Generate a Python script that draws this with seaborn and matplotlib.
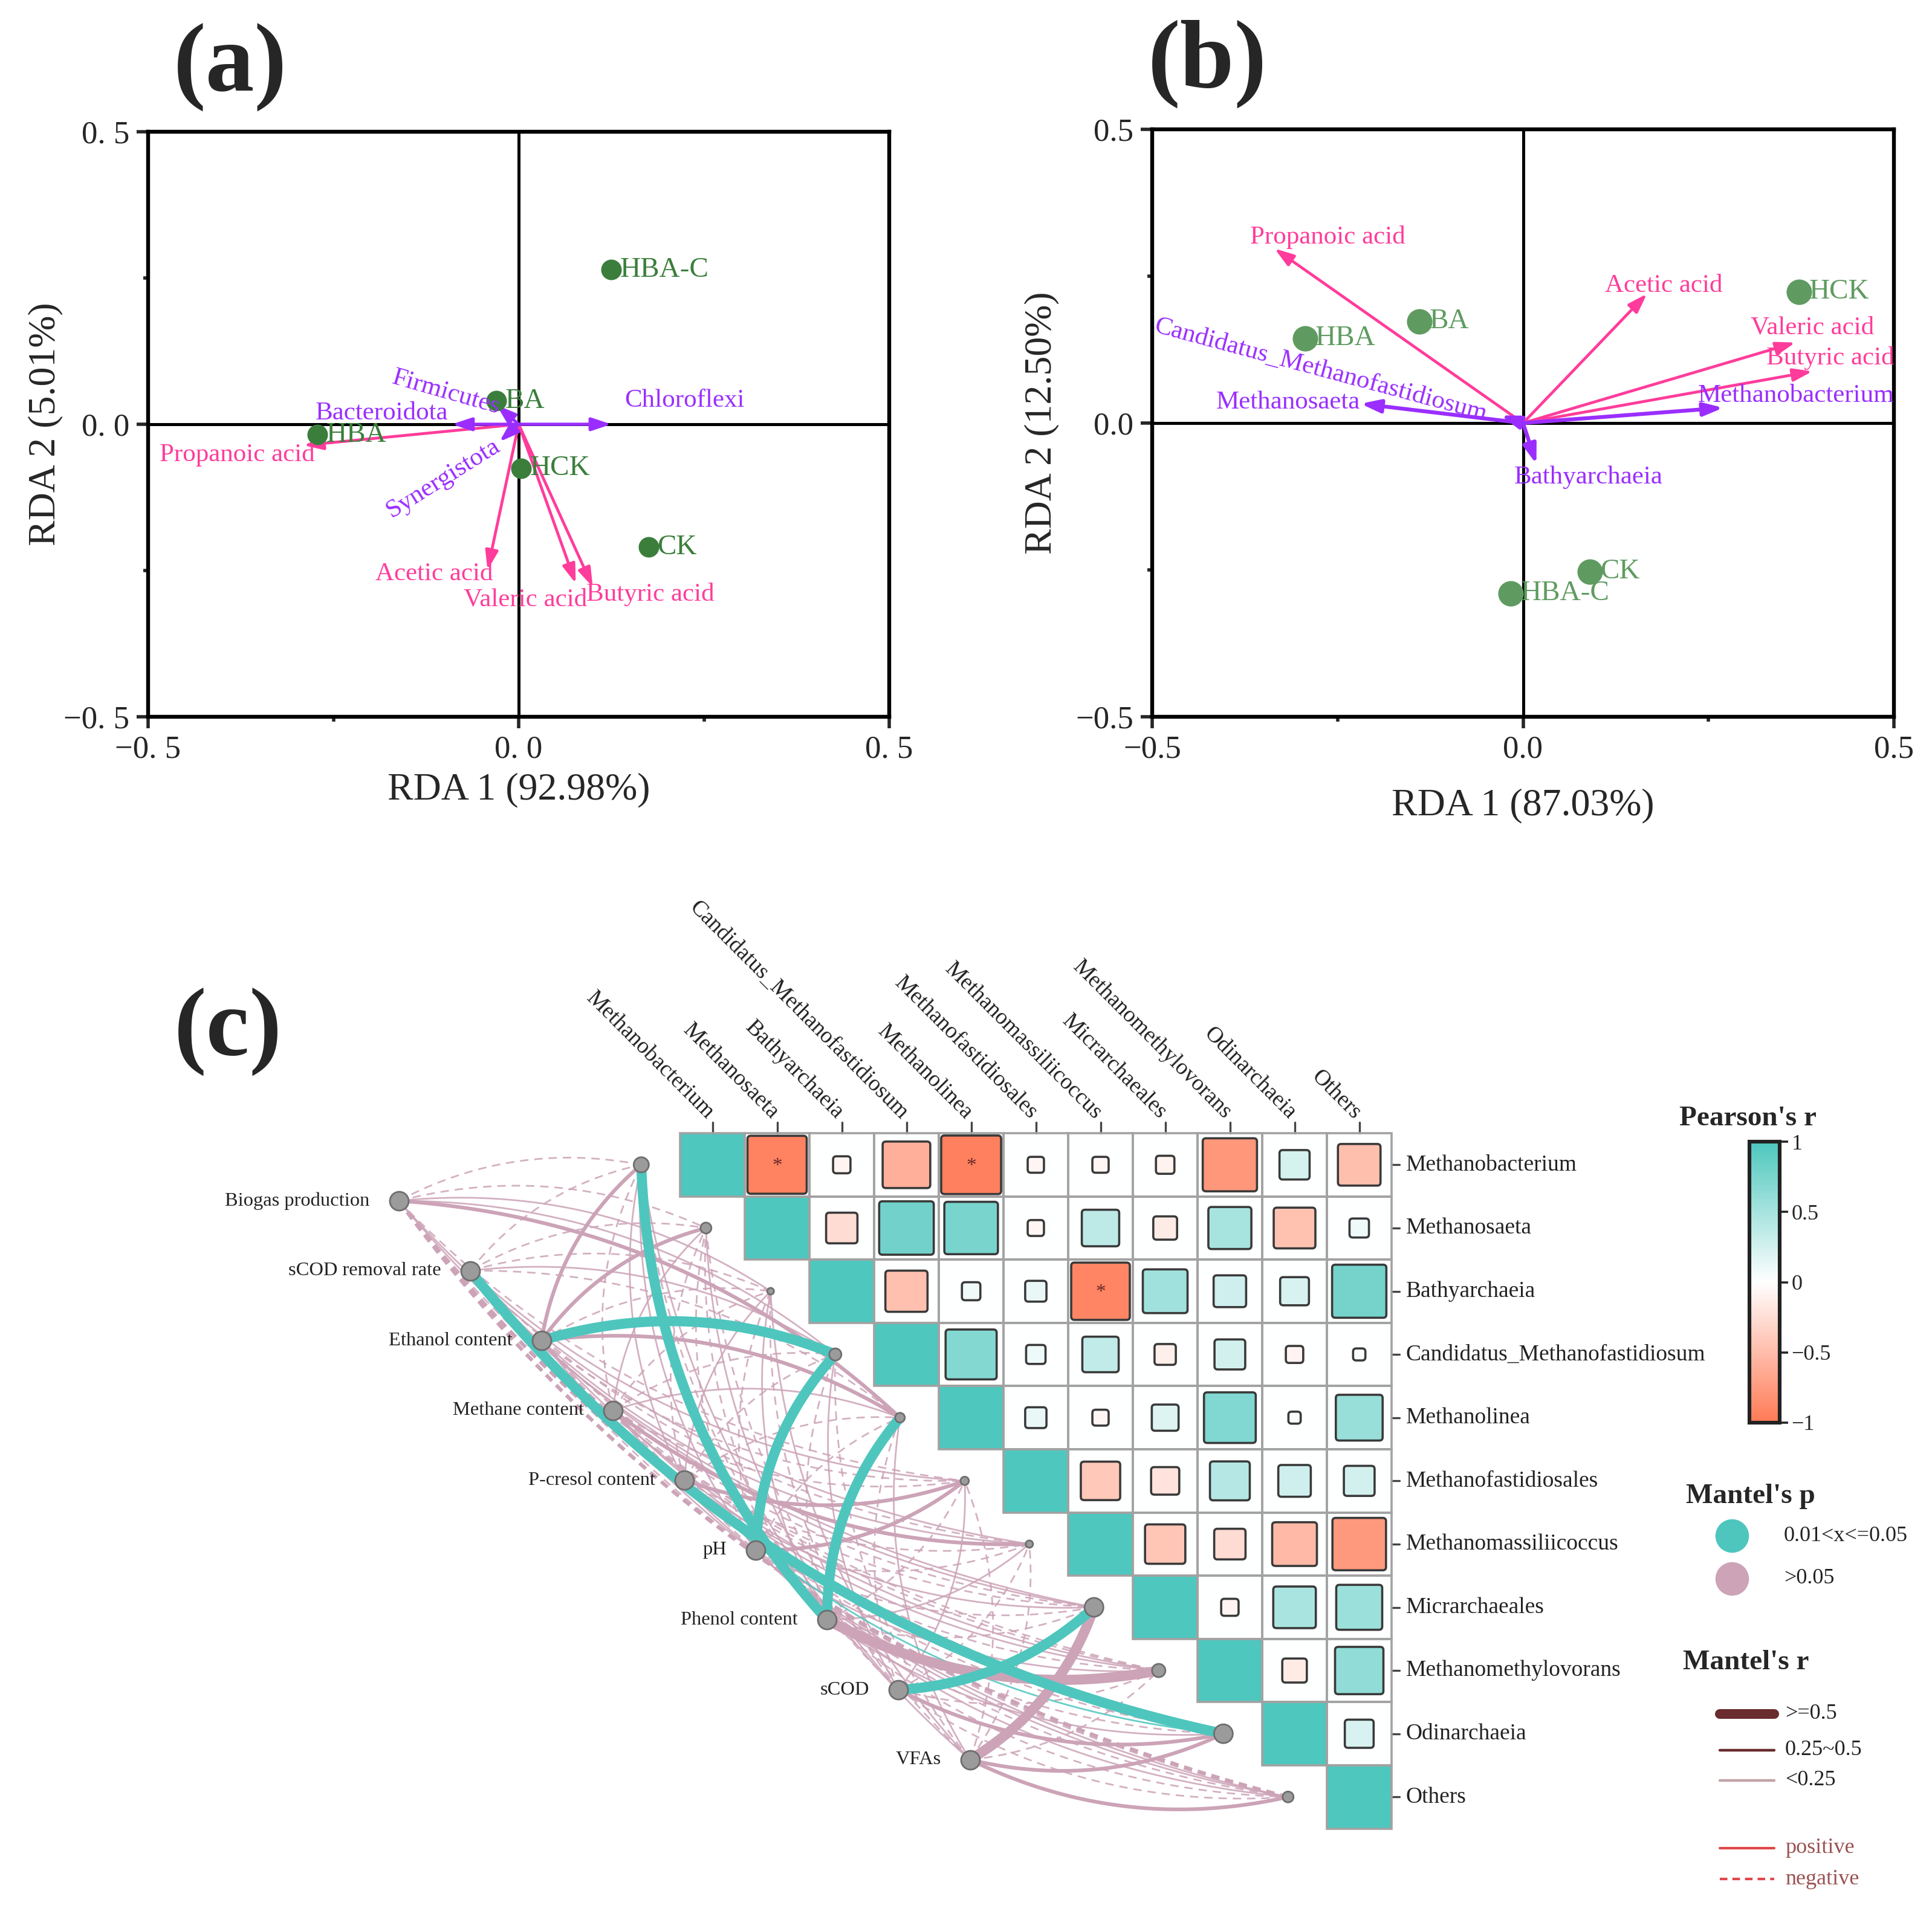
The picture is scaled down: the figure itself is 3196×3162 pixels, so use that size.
import numpy as np
import pandas as pd
import matplotlib
matplotlib.use("Agg")
import matplotlib.pyplot as plt
import seaborn as sns
from matplotlib.colors import LinearSegmentedColormap, Normalize
from matplotlib.patches import FancyBboxPatch, Rectangle

sns.set_style("white")
plt.rcParams["font.family"] = ["Liberation Serif", "DejaVu Serif"]
plt.rcParams["axes.unicode_minus"] = True

# ------------------------------------------------------------------ data
samples = ["HBA-C", "BA", "HBA", "HCK", "CK"]

# panel (a): bacteria RDA
a_rda1 = [0.125, -0.030, -0.272, 0.003, 0.175]
a_rda2 = [0.264, 0.040, -0.018, -0.075, -0.210]
vfa_names = ["Propanoic acid", "Acetic acid", "Valeric acid", "Butyric acid"]
a_vfa_x = [-0.290, -0.042, 0.077, 0.100]
a_vfa_y = [-0.036, -0.249, -0.272, -0.278]
a_taxa = ["Chloroflexi", "Bacteroidota", "Firmicutes", "Synergistota"]
a_taxa_x = [0.125, -0.090, -0.030, -0.026]
a_taxa_y = [0.000, 0.000, 0.033, -0.030]

# panel (b): archaea RDA
b_rda1 = [-0.017, -0.140, -0.294, 0.372, 0.090]
b_rda2 = [-0.290, 0.173, 0.144, 0.223, -0.253]
b_vfa_x = [-0.335, 0.167, 0.367, 0.390]
b_vfa_y = [0.297, 0.220, 0.137, 0.088]
b_taxa = ["Methanobacterium", "Methanosaeta", "Candidatus_Methanofastidiosum", "Bathyarchaeia"]
b_taxa_x = [0.270, -0.219, -0.030, 0.018]
b_taxa_y = [0.026, 0.033, 0.013, -0.070]

# panel (c): Pearson correlation among genera (upper triangle, row by row)
genera = ["Methanobacterium", "Methanosaeta", "Bathyarchaeia",
          "Candidatus_Methanofastidiosum", "Methanolinea", "Methanofastidiosales",
          "Methanomassiliicoccus", "Micrarchaeales", "Methanomethylovorans",
          "Odinarchaeia", "Others"]
pearson_rows = [
    [1, -0.93, -0.08, -0.60, -0.95, -0.07, -0.07, -0.09, -0.78, 0.24, -0.48],
    [1, -0.26, 0.79, 0.76, -0.07, 0.37, -0.15, 0.49, -0.46, 0.10],
    [1, -0.47, 0.09, 0.12, -0.91, 0.53, 0.28, 0.22, 0.78],
    [1, 0.69, 0.10, 0.35, -0.12, 0.25, -0.08, 0.04],
    [1, 0.12, -0.07, 0.19, 0.71, 0.04, 0.58],
    [1, -0.41, -0.21, 0.42, 0.28, 0.25],
    [1, -0.43, -0.26, -0.53, -0.76],
    [1, -0.08, 0.48, 0.56],
    [1, -0.16, 0.62],
    [1, 0.22],
    [1],
]
signif_cells = [(0, 1), (0, 4), (2, 6)]

env_factors = ["Biogas production", "sCOD removal rate", "Ethanol content",
               "Methane content", "P-cresol content", "pH", "Phenol content",
               "sCOD", "VFAs"]
mantel_r = [
    [-0.12, -0.15, 0.10, 0.14, 0.31, -0.08, 0.12, 0.09, -0.11, -0.30, -0.28],
    [-0.10, -0.13, -0.09, 0.12, -0.08, 0.11, -0.14, 0.10, -0.12, 0.55, -0.16],
    [0.30, 0.32, -0.10, 0.60, 0.30, -0.12, 0.15, -0.09, 0.13, -0.11, 0.10],
    [-0.09, 0.12, -0.14, -0.10, 0.11, -0.13, 0.28, -0.12, 0.09, -0.15, 0.12],
    [0.11, -0.10, 0.13, -0.12, -0.09, 0.27, -0.11, 0.12, -0.14, 0.20, -0.10],
    [0.13, -0.12, -0.10, 0.55, -0.11, 0.26, -0.13, -0.09, 0.12, -0.14, 0.11],
    [0.58, -0.11, 0.12, -0.13, 0.56, -0.10, 0.14, -0.12, 0.52, 0.11, -0.13],
    [-0.12, 0.10, -0.13, 0.11, -0.14, 0.12, -0.10, 0.57, -0.11, 0.30, -0.12],
    [0.10, -0.13, 0.11, -0.12, 0.13, -0.11, -0.14, 0.51, -0.10, 0.30, 0.26],
]
mantel_p = [
    [0.42, 0.38, 0.55, 0.47, 0.21, 0.63, 0.51, 0.58, 0.44, 0.18, 0.22],
    [0.49, 0.41, 0.57, 0.46, 0.60, 0.52, 0.39, 0.55, 0.45, 0.03, 0.36],
    [0.17, 0.15, 0.52, 0.02, 0.19, 0.44, 0.40, 0.58, 0.48, 0.50, 0.56],
    [0.57, 0.46, 0.40, 0.53, 0.50, 0.43, 0.20, 0.47, 0.59, 0.38, 0.49],
    [0.50, 0.54, 0.45, 0.44, 0.58, 0.22, 0.48, 0.46, 0.41, 0.045, 0.55],
    [0.45, 0.47, 0.53, 0.04, 0.50, 0.24, 0.42, 0.57, 0.49, 0.39, 0.52],
    [0.03, 0.49, 0.46, 0.42, 0.04, 0.55, 0.40, 0.47, 0.08, 0.51, 0.43],
    [0.46, 0.56, 0.42, 0.50, 0.39, 0.48, 0.53, 0.03, 0.47, 0.21, 0.45],
    [0.54, 0.43, 0.51, 0.46, 0.44, 0.50, 0.38, 0.10, 0.55, 0.20, 0.23],
]

# ------------------------------------------------------------------ styles
W, H, DPI = 3196, 3162, 200
PINK = "#FF3C9B"
PURPLE = "#9A2EFF"
GREEN_A = "#3B7E3C"
GREEN_B = "#5F9B60"
TEAL = "#4EC6BE"
MAUVE = "#CCA3B7"

fig = plt.figure(figsize=(W / DPI, H / DPI), dpi=DPI)


def fpos(left, top, right, bottom):
    return [left / W, 1 - bottom / H, (right - left) / W, (bottom - top) / H]


def style_rda(ax, ticklabels, xlabel, ylabel, xl_y, yl_x):
    ax.set_xlim(-0.5, 0.5)
    ax.set_ylim(-0.5, 0.5)
    for s in ax.spines.values():
        s.set_visible(True)
        s.set_linewidth(2.3)
        s.set_color("black")
    ax.set_xticks([-0.5, 0, 0.5])
    ax.set_yticks([-0.5, 0, 0.5])
    ax.set_xticks([-0.25, 0.25], minor=True)
    ax.set_yticks([-0.25, 0.25], minor=True)
    ax.set_xticklabels(ticklabels)
    ax.set_yticklabels(ticklabels)
    ax.tick_params(which="major", direction="out", length=7, width=2,
                   labelsize=19, bottom=True, left=True, pad=4)
    ax.tick_params(which="minor", direction="out", length=3, width=2,
                   bottom=True, left=True)
    ax.set_xlabel(xlabel, fontsize=23)
    ax.set_ylabel(ylabel, fontsize=23)
    ax.xaxis.set_label_coords(0.5, xl_y)
    ax.yaxis.set_label_coords(yl_x, 0.5)
    ax.axhline(0, color="black", lw=1.8, zorder=1)
    ax.axvline(0, color="black", lw=1.8, zorder=1)
    ax.grid(False)


def draw_arrow(ax, x, y, color, lw):
    ax.annotate("", xy=(x, y), xytext=(0, 0),
                arrowprops=dict(arrowstyle="-|>,head_length=0.6,head_width=0.2",
                                color=color, lw=lw, shrinkA=0, shrinkB=0,
                                mutation_scale=16), zorder=3)


# ------------------------------------------------------------------ panel (a)
axa = fig.add_axes(fpos(245, 218, 1471, 1186))
style_rda(axa, ["\u22120. 5", "0. 0", "0. 5"], "RDA 1 (92.98%)", "RDA 2 (5.01%)",
          -0.095, -0.115)
for x, y in zip(a_vfa_x, a_vfa_y):
    draw_arrow(axa, x, y, PINK, 1.7)
for x, y in zip(a_taxa_x, a_taxa_y):
    draw_arrow(axa, x, y, PURPLE, 1.9)
sns.scatterplot(x=a_rda1, y=a_rda2, ax=axa, color=GREEN_A, s=150, linewidth=0,
                zorder=4, legend=False)
for name, x, y in zip(samples, a_rda1, a_rda2):
    axa.text(x + 0.012, y, name, color=GREEN_A, fontsize=17, ha="left", va="center", zorder=5)
a_vfa_lab = {"Propanoic acid": (-0.275, -0.052, "right", 0),
             "Acetic acid": (-0.035, -0.256, "right", 0),
             "Valeric acid": (0.009, -0.300, "center", 0),
             "Butyric acid": (0.091, -0.291, "left", 0)}
for name in vfa_names:
    x, y, ha, rot = a_vfa_lab[name]
    axa.text(x, y, name, color=PINK, fontsize=15.5, ha=ha, va="center", rotation=rot, zorder=5)
a_taxa_lab = {"Chloroflexi": (0.143, 0.041, "left", 0),
              "Bacteroidota": (-0.185, 0.019, "center", 0),
              "Firmicutes": (-0.098, 0.054, "center", -16),
              "Synergistota": (-0.102, -0.093, "center", 32)}
for name in a_taxa:
    x, y, ha, rot = a_taxa_lab[name]
    axa.text(x, y, name, color=PURPLE, fontsize=15.5, ha=ha, va="center",
             rotation=rot, rotation_mode="anchor", zorder=5)

# ------------------------------------------------------------------ panel (b)
axb = fig.add_axes(fpos(1906, 214, 3133, 1186))
style_rda(axb, ["\u22120.5", "0.0", "0.5"], "RDA 1 (87.03%)", "RDA 2 (12.50%)",
          -0.122, -0.125)
for x, y in zip(b_vfa_x, b_vfa_y):
    draw_arrow(axb, x, y, PINK, 1.7)
for x, y in zip(b_taxa_x, b_taxa_y):
    draw_arrow(axb, x, y, PURPLE, 2.3)
sns.scatterplot(x=b_rda1, y=b_rda2, ax=axb, color=GREEN_B, s=230, linewidth=0,
                zorder=4, legend=False)
for name, x, y in zip(samples, b_rda1, b_rda2):
    axb.text(x + 0.014, y, name, color=GREEN_B, fontsize=17, ha="left", va="center", zorder=5)
b_vfa_lab = {"Propanoic acid": (-0.368, 0.316, "left", 0),
             "Acetic acid": (0.190, 0.234, "center", 0),
             "Valeric acid": (0.390, 0.162, "center", 0),
             "Butyric acid": (0.414, 0.111, "center", 0)}
for name in vfa_names:
    x, y, ha, rot = b_vfa_lab[name]
    axb.text(x, y, name, color=PINK, fontsize=15.5, ha=ha, va="center", zorder=5)
b_taxa_lab = {"Methanobacterium": (0.368, 0.047, "center", 0),
              "Methanosaeta": (-0.317, 0.035, "center", 0),
              "Candidatus_Methanofastidiosum": (-0.273, 0.090, "center", -15),
              "Bathyarchaeia": (0.088, -0.092, "center", 0)}
for name in b_taxa:
    x, y, ha, rot = b_taxa_lab[name]
    axb.text(x, y, name, color=PURPLE, fontsize=15.5, ha=ha, va="center",
             rotation=rot, rotation_mode="anchor", zorder=5)

# ------------------------------------------------------------------ panel (c)
n = len(genera)
corr = np.eye(n)
for i, row in enumerate(pearson_rows):
    for k, v in enumerate(row):
        corr[i, i + k] = v
        corr[i + k, i] = v

X0, Y0, CW, CH = 1125, 1875, 107.0, 104.6   # grid origin / cell size in px
L, T, R, B = 300, 1450, 2320, 3120
axc = fig.add_axes(fpos(L, T, R, B))
cmap = LinearSegmentedColormap.from_list("pearson", ["#FF7A56", "#FFFFFF", "#4EC7BE"])
norm = Normalize(-1, 1)

bg = np.where(np.eye(n, dtype=bool), corr, 0.0)
mask = np.tril(np.ones((n, n), dtype=bool), k=-1)
cax = fig.add_axes(fpos(2894, 1889, 2944, 2354))
sns.heatmap(pd.DataFrame(bg, index=genera, columns=genera), mask=mask, cmap=cmap,
            vmin=-1, vmax=1, linewidths=0, cbar=True,
            cbar_ax=cax, ax=axc, xticklabels=False, yticklabels=False)
axc.set_xlim((L - X0) / CW, (R - X0) / CW)
axc.set_ylim((B - Y0) / CH, (T - Y0) / CH)
axc.axis("off")

# cell borders of the upper triangle
for i in range(n):
    for j in range(i, n):
        axc.add_patch(Rectangle((j, i), 1, 1, fill=False, edgecolor="#A2A2A2",
                                lw=1.3, zorder=2.5))

cbar = axc.collections[0].colorbar
cbar.set_ticks([-1, -0.5, 0, 0.5, 1])
cbar.set_ticklabels(["\u22121", "\u22120.5", "0", "0.5", "1"])
cbar.outline.set_linewidth(2.2)
cbar.outline.set_edgecolor("#222222")
cbar.ax.tick_params(length=5, width=1.3, labelsize=13, pad=2, right=True)

# squares for off-diagonal correlations
for i in range(n):
    for j in range(i + 1, n):
        r = corr[i, j]
        s = 0.95 * np.sqrt(abs(r))
        cx, cy = j + 0.5, i + 0.5
        axc.add_patch(FancyBboxPatch((cx - s / 2, cy - s / 2), s, s,
                                     boxstyle="round,pad=0,rounding_size=0.05",
                                     facecolor=cmap(norm(r)), edgecolor="#3A3A3A",
                                     lw=1.3, zorder=3))
for (i, j) in signif_cells:
    axc.text(j + 0.5, i + 0.52, "*", ha="center", va="center", fontsize=12,
             color="#6A2A2A", zorder=4)

# axis labels of the correlation matrix
for j, name in enumerate(genera):
    axc.plot([j + 0.5, j + 0.5], [0, -0.17], color="#444444", lw=1.2, clip_on=False)
    axc.text(j + 0.47, -0.27, name, rotation=-45, rotation_mode="anchor",
             ha="right", va="center", fontsize=13.5, color="#222222")
    axc.plot([n, n + 0.12], [j + 0.5, j + 0.5], color="#444444", lw=1.2, clip_on=False)
    axc.text(n + 0.22, j + 0.5, name, ha="left", va="center", fontsize=13.5,
             color="#222222", clip_on=False)

# Mantel network
env_xy = [(-4.35 + 1.104 * i, 1.07 + 1.105 * i) for i in range(len(env_factors))]
gen_xy = [(j - 0.6, j + 0.5) for j in range(n)]
tt = np.linspace(0, 1, 90)[:, None]
links = []
for i in range(len(env_factors)):
    for j in range(n):
        links.append((i, j, mantel_r[i][j], mantel_p[i][j]))


def link_rank(lk):
    a = abs(lk[2])
    return (a >= 0.5) * 2 + (0.25 <= a < 0.5) * 1 + (lk[3] <= 0.05) * 0.5


for i, j, r, p in sorted(links, key=link_rank):
    P0 = np.array(env_xy[i])
    P2 = np.array(gen_xy[j])
    d = P2 - P0
    perp = np.array([d[1], -d[0]])
    sgn = 1 if j <= 4 else -1
    C = (P0 + P2) / 2 + sgn * 0.18 * perp
    pts = (1 - tt) ** 2 * P0 + 2 * (1 - tt) * tt * C + tt ** 2 * P2
    a = abs(r)
    lw = 6.0 if a >= 0.5 else (2.2 if a >= 0.25 else 1.0)
    col = TEAL if p <= 0.05 else MAUVE
    alpha = 1.0 if a >= 0.25 else 0.85
    ls = "-" if r > 0 else (0, (5.0 / lw, 3.5 / lw))
    axc.plot(pts[:, 0], pts[:, 1], color=col, lw=lw, ls=ls, alpha=alpha,
             solid_capstyle="round", dash_capstyle="butt",
             zorder=2.2 if a >= 0.5 else 2.0)

genus_node_size = [81, 42, 16, 52, 33, 25, 19, 125, 63, 125, 42]
sns.scatterplot(x=[p[0] for p in env_xy], y=[p[1] for p in env_xy], ax=axc,
                s=125, color="#9B9B9B", edgecolor="#6E6E6E", linewidth=1.0,
                zorder=5, legend=False)
axc.scatter([p[0] for p in gen_xy], [p[1] for p in gen_xy], s=genus_node_size,
            color="#9B9B9B", edgecolor="#6E6E6E", linewidth=1.0, zorder=5)
for (x, y), name in zip(env_xy, env_factors):
    axc.text(x - 0.45, y, name, ha="right", va="center", fontsize=11.7, color="#222222",
             zorder=6)

# ------------------------------------------------------------------ overlay: labels & legends
ov = fig.add_axes([0, 0, 1, 1], facecolor="none")
ov.set_xlim(0, W)
ov.set_ylim(H, 0)
ov.axis("off")
for txt, x, y in [("(a)", 381, 112), ("(b)", 1997, 106), ("(c)", 377, 1708)]:
    ov.text(x, y, txt, fontsize=58, fontweight="bold", ha="center", va="center")

ov.text(2892, 1851, "Pearson's r", fontsize=17, fontweight="bold", ha="center", va="center")
ov.text(2896, 2476, "Mantel's p", fontsize=17, fontweight="bold", ha="center", va="center")
ov.scatter([2865], [2541], s=400, color=TEAL, linewidth=0)
ov.scatter([2865], [2612], s=400, color=MAUVE, linewidth=0)
ov.text(2951, 2541, "0.01<x<=0.05", fontsize=13, ha="left", va="center", color="#222222")
ov.text(2951, 2612, ">0.05", fontsize=13, ha="left", va="center", color="#222222")

ov.text(2888, 2751, "Mantel's r", fontsize=17, fontweight="bold", ha="center", va="center")
ov.plot([2845, 2935], [2836, 2836], lw=5.8, color="#6A2C2E", solid_capstyle="round")
ov.plot([2845, 2935], [2896, 2896], lw=1.6, color="#6A2C2E")
ov.plot([2845, 2935], [2946, 2946], lw=1.6, color="#C2A4A9")
ov.text(2953, 2836, ">=0.5", fontsize=13, ha="left", va="center", color="#222222")
ov.text(2953, 2896, "0.25~0.5", fontsize=13, ha="left", va="center", color="#222222")
ov.text(2953, 2946, "<0.25", fontsize=13, ha="left", va="center", color="#222222")
ov.plot([2845, 2935], [3058, 3058], lw=1.5, color="#E0474A")
ov.plot([2845, 2935], [3109, 3109], lw=1.5, color="#E0474A", ls=(0, (3, 2)))
ov.text(2953, 3058, "positive", fontsize=13, ha="left", va="center", color="#9A5252")
ov.text(2953, 3109, "negative", fontsize=13, ha="left", va="center", color="#9A5252")

fig.savefig("out.png", dpi=DPI)
